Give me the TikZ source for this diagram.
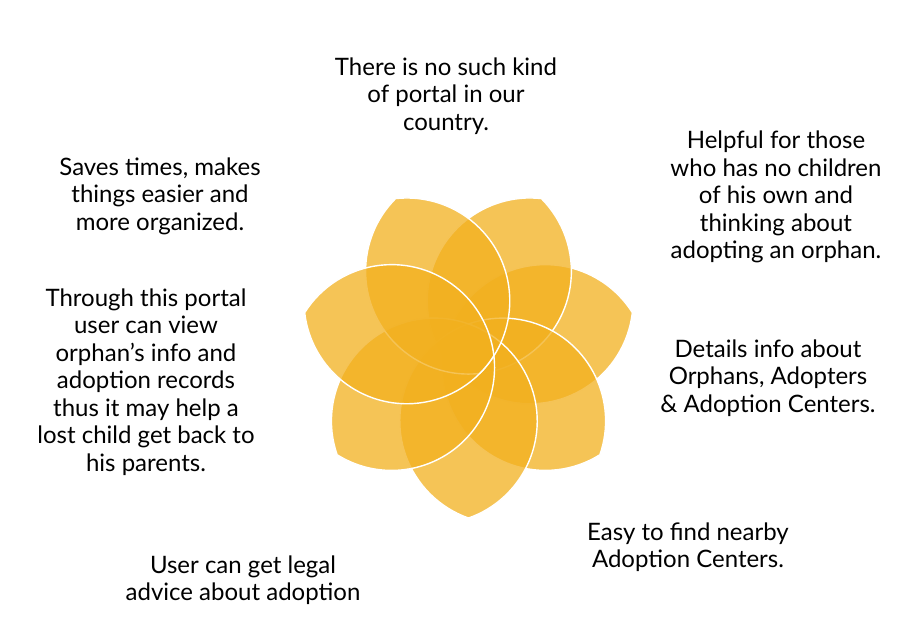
\documentclass[tikz,border=0pt]{standalone}
\usepackage{fontspec}
\setmainfont{Lato}
\definecolor{petalfill}{RGB}{242,176,30}
\tikzset{
  petal/.style={fill=petalfill, fill opacity=0.75, draw=white, line width=1.4pt},
  petaltext/.style={align=center, inner sep=0pt, font=\fontsize{24}{27.5}\selectfont}
}
\begin{document}
\begin{tikzpicture}[x=1pt,y=1pt]
\useasboundingbox (0,0) rectangle (900,631);
\begin{scope}[shift={(468.5,281)}]
\foreach \k in {2,3,1,0,6,4,5}{
  \pgfmathsetmacro{\ang}{-90+\k*360/7}
  \draw[petal, rotate=\ang] (168.05,0) arc[start angle=19.41, end angle=160.59, radius=102.9]
    arc[start angle=199.41, end angle=340.59, radius=102.9] -- cycle;
}
\end{scope}
\node[petaltext] (noPortal) at (446,535) {There is no such kind\\of portal in our\\country.};
\node[petaltext] (helpful) at (776,434) {Helpful for those\\who has no children\\of his own and\\thinking about\\adopting an orphan.};
\node[petaltext] (details) at (768,253) {Details info about\\Orphans, Adopters\\\& Adoption Centers.};
\node[petaltext] (nearby) at (688,84) {Easy to find nearby\\Adoption Centers.};
\node[petaltext] (legal) at (243,51) {User can get legal\\advice about adoption};
\node[petaltext] (lostChild) at (146,249) {Through this portal\\user can view\\orphan’s info and\\adoption records\\thus it may help a\\lost child get back to\\his parents.};
\node[petaltext] (savesTime) at (160,435) {Saves times, makes\\things easier and\\more organized.};
\end{tikzpicture}
\end{document}
